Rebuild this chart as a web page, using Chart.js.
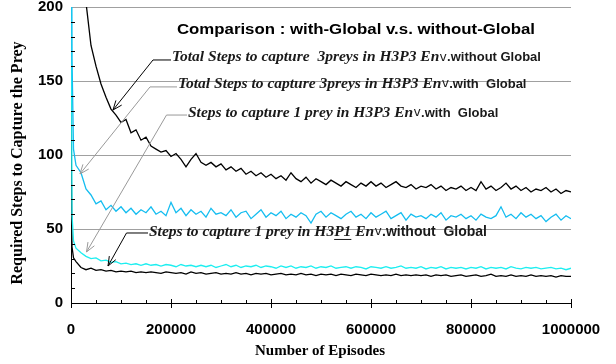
<!DOCTYPE html>
<html>
<head>
<meta charset="utf-8">
<script src="https://cdn.jsdelivr.net/npm/chart.js@4.4.0/dist/chart.umd.min.js"></script>
<style>
  body { margin: 0; background: #fff; }
  canvas { display: block; }
</style>
</head>
<body>
<canvas id="cmpChart" width="616" height="364" style="width:616px;height:364px"></canvas>
<script>
// episodes sampled along the x axis
const episodes = [0, 2000, 5000,
  10000, 20000, 30000, 40000, 50000, 60000, 70000, 80000, 90000, 100000,
  110000, 120000, 130000, 140000, 150000, 160000, 170000, 180000, 190000, 200000,
  210000, 220000, 230000, 240000, 250000, 260000, 270000, 280000, 290000, 300000,
  310000, 320000, 330000, 340000, 350000, 360000, 370000, 380000, 390000, 400000,
  410000, 420000, 430000, 440000, 450000, 460000, 470000, 480000, 490000, 500000,
  510000, 520000, 530000, 540000, 550000, 560000, 570000, 580000, 590000, 600000,
  610000, 620000, 630000, 640000, 650000, 660000, 670000, 680000, 690000, 700000,
  710000, 720000, 730000, 740000, 750000, 760000, 770000, 780000, 790000, 800000,
  810000, 820000, 830000, 840000, 850000, 860000, 870000, 880000, 890000, 900000,
  910000, 920000, 930000, 940000, 950000, 960000, 970000, 980000, 990000, 1000000];

// Total steps, 3 preys, H3P3, without Global (black, top)
const total3NoGlobal = [900, 700, 500,
  330, 245, 203, 174, 160, 148, 139, 131, 127, 122,
  124, 115, 117, 110, 112, 106, 104, 102, 103, 99,
  101, 97, 92, 97, 101, 95, 93, 95, 92, 94,
  90, 92, 89, 91, 87, 89, 86, 88, 85, 87,
  84, 86, 83, 88, 84, 82, 85, 81, 84, 82,
  80, 83, 81, 79, 82, 80, 78, 81, 79, 82,
  79, 81, 78, 80, 82, 79, 78, 80, 77, 79,
  78, 80, 77, 79, 76, 78, 77, 79, 76, 78,
  76, 82, 77, 79, 76, 78, 81, 77, 79, 76,
  78, 75, 77, 76, 78, 75, 77, 74, 76, 75];

// Total steps, 3 preys, H3P3, with Global (blue)
const total3Global = [400, 165, 104,
  93, 88, 77, 73, 67, 69, 63, 66, 62, 65,
  61, 64, 60, 63, 61, 65, 60, 62, 59, 68,
  61, 64, 59, 63, 60, 62, 58, 64, 60, 61,
  59, 63, 58, 61, 62, 57, 60, 63, 58, 61,
  59, 62, 57, 60, 58, 61, 59, 54, 60, 62,
  58, 61, 59, 57, 60, 62, 58, 60, 57, 61,
  58, 60, 62, 57, 59, 61, 56, 60, 58, 59,
  57, 60, 58, 61, 56, 59, 58, 60, 57, 59,
  56, 60, 58, 57, 59, 65, 58, 60, 57, 61,
  58, 60, 57, 59, 55, 58, 60, 56, 59, 57];

// Steps for 1 prey, H3P3, with Global (aqua)
const one3Global = [300, 60, 42,
  37, 34, 31.5, 30, 30.5, 28.5, 29, 27.5, 28, 26.5,
  27, 26, 26.5, 25.5, 26.5, 25.5, 26, 25, 26, 25.5,
  24.5, 26, 25, 25.5, 24.5, 25.5, 24.5, 25.5, 24, 25,
  26, 24.5, 25.5, 24, 25, 24.5, 25.5, 24, 25, 24.5,
  23.5, 25, 24, 25, 23.5, 24.5, 24, 25, 23.5, 24.5,
  24, 25, 23.5, 24, 24.5, 23.5, 24.5, 24, 23, 24.5,
  24, 23.5, 24.5, 23.5, 24, 25, 23.5, 24, 23.5, 24.5,
  23, 24, 23.5, 24.5, 23, 24, 23.5, 24, 23, 24,
  23.5, 24.5, 23, 24, 23.5, 24, 23, 24.5, 23.5, 23,
  24, 23.5, 24, 23, 23.5, 24, 23, 23.5, 22.5, 23.5];

// Steps for 1 prey, H3P1, without Global (black, bottom)
const one1NoGlobal = [120, 38, 30.5,
  28, 24, 22.5, 23.5, 22, 22.5, 21.5, 22, 21, 21.5,
  21, 21.5, 20.5, 21, 20.5, 21, 20.5, 20, 21, 20.5,
  20, 20.5, 19.5, 21, 20, 20.5, 19.5, 20, 20.5, 19.5,
  20, 19.5, 20.5, 19.5, 20, 19, 20, 19.5, 20, 19,
  19.5, 20, 19, 19.5, 19, 20, 19, 19.5, 18.5, 19.5,
  19, 19.5, 18.5, 19.5, 19, 18.5, 19.5, 19, 18.5, 19.5,
  19, 18.5, 19, 18.5, 19.5, 18.5, 19, 18.5, 19, 18.5,
  19, 18, 19, 18.5, 19, 18, 18.5, 19, 18, 18.5,
  19, 18, 18.5, 19.5, 18, 18.5, 18, 19, 18, 18.5,
  18, 19, 18, 18.5, 18, 18.5, 17.5, 18.5, 18, 18];

const xTicks = [0, 200000, 400000, 600000, 800000, 1000000];
const yTicks = [0, 50, 100, 150, 200];

const titleText = 'Comparison : with-Global v.s. without-Global';
const xTitle = 'Number of Episodes';
const yTitle = 'Required Steps to Capture the Prey';

const SERIF = "bold italic 15.5px 'Liberation Serif'";
const VEE = "13px 'DejaVu Sans Mono'";
const sans = px => "bold " + px + "px 'Liberation Sans'";

// callouts: text anchor, elbow and arrow tip in data units
const callouts = [
  { color: '#000', text: [202000, 166], elbow: [164000, 164.2], tip: [84000, 130.4],
    parts: [['Total Steps to capture  3preys in H3P3 En', SERIF], ['v', VEE], ['.without Global', sans(13)]] },
  { color: '#999', text: [214000, 148], elbow: [158000, 146], tip: [18000, 87.2],
    parts: [['Total Steps to capture 3preys in H3P3 En', SERIF], ['v', VEE], ['.with  Global', sans(13)]] },
  { color: '#999', text: [234000, 128.4], elbow: [191000, 127], tip: [31000, 34.5],
    parts: [['Steps to capture 1 prey in H3P3 En', SERIF], ['v', VEE], ['.with  Global', sans(13)]] },
  { color: '#000', text: [156000, 48], elbow: [111000, 47.3], tip: [74000, 25],
    parts: [['Steps to capture 1 prey in H3', SERIF], ['P1', SERIF, true], [' En', SERIF], ['v', VEE], ['.without  Global', sans(14)]] }
];

const pts = arr => episodes.map((x, i) => ({ x: x, y: arr[i] }));

const decor = {
  id: 'decor',
  afterDraw(chart) {
    const { ctx, chartArea: a, scales: { x, y } } = chart;
    ctx.save();
    // tick marks
    ctx.strokeStyle = '#000';
    ctx.lineWidth = 1;
    ctx.beginPath();
    for (let v = 0; v <= 1000000; v += 50000) {
      const px = Math.round(x.getPixelForValue(v)) + 0.5;
      if (v % 200000 === 0) { ctx.moveTo(px, a.bottom - 4); ctx.lineTo(px, a.bottom + 5); }
      else { ctx.moveTo(px, a.bottom - 3); ctx.lineTo(px, a.bottom + 1); }
    }
    for (let v = 10; v < 200; v += 10) {
      if (v % 50 === 0) continue;
      const py = Math.round(y.getPixelForValue(v)) + 0.5;
      ctx.moveTo(a.left, py); ctx.lineTo(a.left + 4, py);
    }
    ctx.stroke();

    // title (slightly stretched like the original) and axis titles
    ctx.fillStyle = '#000';
    ctx.textBaseline = 'middle';
    ctx.textAlign = 'center';
    ctx.save();
    ctx.translate(356, 30);
    ctx.scale(1.2, 1);
    ctx.font = "bold 14px 'Liberation Sans'";
    ctx.fillText(titleText, 0, 0);
    ctx.restore();
    ctx.font = "bold 15px 'Liberation Serif'";
    ctx.fillText(xTitle, 320, 351);
    ctx.save();
    ctx.translate(18, 163);
    ctx.rotate(-Math.PI / 2);
    ctx.font = "bold 16px 'Liberation Serif'";
    ctx.fillText(yTitle, 0, 0);
    ctx.restore();

    // callouts
    ctx.textAlign = 'left';
    callouts.forEach(c => {
      const tx = x.getPixelForValue(c.text[0]), ty = y.getPixelForValue(c.text[1]);
      const ex = x.getPixelForValue(c.elbow[0]), ey = y.getPixelForValue(c.elbow[1]);
      const px = x.getPixelForValue(c.tip[0]), py = y.getPixelForValue(c.tip[1]);
      ctx.strokeStyle = c.color;
      ctx.lineWidth = 1;
      ctx.beginPath();
      ctx.moveTo(tx - 1, ey); ctx.lineTo(ex, ey); ctx.lineTo(px, py);
      const ang = Math.atan2(ey - py, ex - px);
      [0.38, -0.38].forEach(d => {
        ctx.moveTo(px, py);
        ctx.lineTo(px + 10 * Math.cos(ang + d), py + 10 * Math.sin(ang + d));
      });
      ctx.stroke();
      let cx = tx;
      ctx.fillStyle = '#1a1a1a';
      c.parts.forEach(p => {
        ctx.font = p[1];
        ctx.fillText(p[0], cx, ty);
        const w = ctx.measureText(p[0]).width;
        if (p[2]) {
          ctx.strokeStyle = '#1a1a1a';
          ctx.beginPath(); ctx.moveTo(cx, ty + 7.5); ctx.lineTo(cx + w, ty + 7.5); ctx.stroke();
        }
        cx += w;
      });
    });
    ctx.restore();
  }
};

new Chart(document.getElementById('cmpChart'), {
  type: 'line',
  data: {
    datasets: [
      { label: 'total3NoGlobal', data: pts(total3NoGlobal), borderColor: '#000', borderWidth: 1.3 },
      { label: 'total3Global', data: pts(total3Global), borderColor: '#14bdf0', borderWidth: 1.3 },
      { label: 'one3Global', data: pts(one3Global), borderColor: '#1eeef0', borderWidth: 1.3 },
      { label: 'one1NoGlobal', data: pts(one1NoGlobal), borderColor: '#000', borderWidth: 1.3 }
    ]
  },
  options: {
    responsive: false,
    animation: false,
    events: [],
    elements: { point: { radius: 0 }, line: { tension: 0 } },
    layout: { padding: { top: 7, right: 45, left: 0, bottom: 0 } },
    plugins: { legend: { display: false }, tooltip: { enabled: false } },
    scales: {
      x: {
        type: 'linear', min: 0, max: 1000000,
        afterBuildTicks: s => { s.ticks = xTicks.map(v => ({ value: v })); },
        ticks: { callback: v => String(v), color: '#000', padding: 18, maxRotation: 0, autoSkip: false,
          font: { family: 'Liberation Sans', weight: 'bold', size: 15 } },
        grid: { display: false, drawTicks: false },
        border: { color: '#000', width: 1 },
        afterFit: s => { s.height = 61; s.paddingLeft = 0; s.paddingRight = 0; }
      },
      y: {
        min: 0, max: 200,
        afterBuildTicks: s => { s.ticks = yTicks.map(v => ({ value: v })); },
        ticks: { color: '#000', padding: 8,
          font: { family: 'Liberation Sans', weight: 'bold', size: 15 } },
        grid: { color: '#a0a0a0', drawTicks: false },
        border: { color: '#000', width: 1 },
        afterFit: s => { s.width = 71; s.paddingTop = 0; s.paddingBottom = 0; }
      }
    }
  },
  plugins: [decor]
});
</script>
</body>
</html>
